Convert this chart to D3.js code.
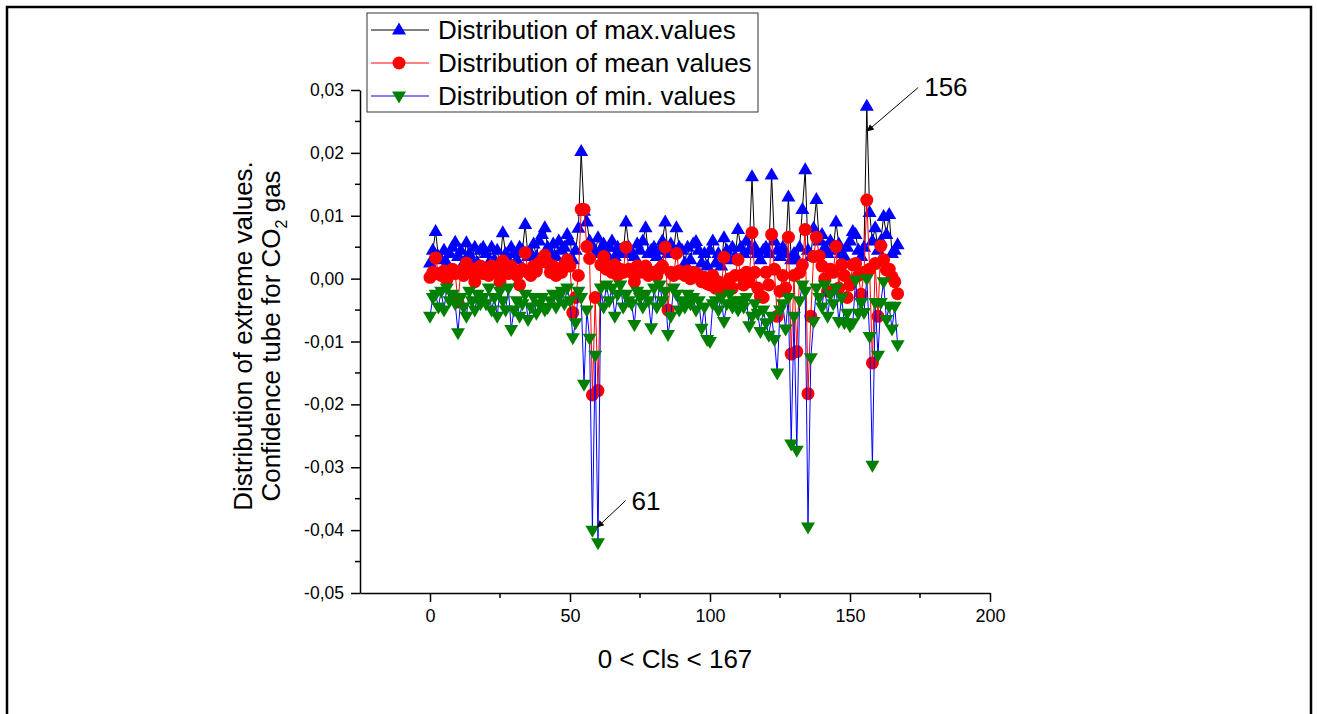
<!DOCTYPE html>
<html lang="en">
  <head>
    <meta charset="UTF-8" />
    <title>Distribution of extreme values</title>
    <script src="https://cdn.jsdelivr.net/npm/d3@7/dist/d3.min.js"></script>
    <style>
      body { margin: 0; background: #fff; }
      text { font-family: Arial, "Liberation Sans", sans-serif; fill: #000; }
      .tick text { font-size: 17.5px; }
    </style>
  </head>
  <body>
    <svg width="1317" height="714"></svg>
    <script>
      const svg = d3.select("svg");

      // max values, x = 0..167
      const maxValues = [
        0.0025, 0.0045, 0.0075, 0.0035, 0.0030, 0.0045, 0.0025, 0.0040, 0.0050, 0.0058,
        0.0035, 0.0045, 0.0025, 0.0057, 0.0040, 0.0030, 0.0050, 0.0025, 0.0045, 0.0050,
        0.0040, 0.0025, 0.0050, 0.0030, 0.0045, 0.0020, 0.0073, 0.0040, 0.0030, 0.0050,
        0.0040, 0.0030, 0.0050, 0.0045, 0.0086, 0.0035, 0.0040, 0.0055, 0.0035, 0.0060,
        0.0070, 0.0081, 0.0050, 0.0040, 0.0055, 0.0035, 0.0060, 0.0045, 0.0050, 0.0070,
        0.0060, 0.0030, 0.0045, 0.0080, 0.0202, 0.0107, 0.0090, 0.0060, 0.0050, 0.0040,
        0.0065, 0.0045, 0.0055, 0.0040, 0.0050, 0.0060, 0.0035, 0.0050, 0.0045, 0.0040,
        0.0090, 0.0050, 0.0040, 0.0035, 0.0055, 0.0045, 0.0060, 0.0081, 0.0040, 0.0045,
        0.0050, 0.0035, 0.0045, 0.0060, 0.0090, 0.0040, 0.0055, 0.0045, 0.0081, 0.0050,
        0.0045, 0.0025, 0.0050, 0.0030, 0.0055, 0.0059, 0.0045, 0.0025, 0.0040, 0.0020,
        0.0045, 0.0060, 0.0025, 0.0040, 0.0020, 0.0065, 0.0045, 0.0030, 0.0050, 0.0035,
        0.0078, 0.0050, 0.0040, 0.0060, 0.0045, 0.0162, 0.0050, 0.0040, 0.0030, 0.0045,
        0.0050, 0.0040, 0.0165, 0.0060, 0.0045, 0.0035, 0.0050, 0.0040, 0.0130, 0.0030,
        0.0040, 0.0030, 0.0050, 0.0110, 0.0173, 0.0045, 0.0035, 0.0080, 0.0126, 0.0060,
        0.0070, 0.0050, 0.0040, 0.0060, 0.0045, 0.0090, 0.0055, 0.0040, 0.0035, 0.0050,
        0.0060, 0.0075, 0.0070, 0.0045, 0.0035, 0.0050, 0.0274, 0.0105, 0.0060, 0.0081,
        0.0045, 0.0060, 0.0099, 0.0070, 0.0102, 0.0040, 0.0045, 0.0054
      ];

      const meanValues = [
        0.0002, 0.0010, 0.0033, 0.0008, 0.0005, 0.0012, -0.0002, 0.0010, 0.0015, 0.0008,
        -0.0037, 0.0012, 0.0005, 0.0025, 0.0010, 0.0015, -0.0005, 0.0012, 0.0020, 0.0008,
        0.0015, 0.0005, 0.0020, 0.0010, 0.0018, -0.0005, 0.0028, 0.0012, 0.0008, 0.0020,
        0.0010, 0.0005, -0.0010, 0.0015, 0.0041, 0.0010, 0.0005, 0.0020, 0.0012, 0.0025,
        0.0030, 0.0037, 0.0025, 0.0010, 0.0020, 0.0005, 0.0015, 0.0010, 0.0022, 0.0030,
        0.0020, -0.0054, -0.0030, 0.0005, 0.0110, 0.0110, 0.0051, 0.0032, -0.0185, -0.0030,
        -0.0178, 0.0022, 0.0035, 0.0015, 0.0020, 0.0010, 0.0022, 0.0005, 0.0015, 0.0010,
        0.0050, 0.0015, 0.0010, -0.0005, 0.0020, 0.0010, 0.0015, 0.0020, 0.0005, 0.0010,
        0.0010, 0.0005, 0.0015, 0.0020, 0.0050, -0.0050, 0.0010, 0.0005, 0.0040, 0.0012,
        0.0008, 0.0005, 0.0012, 0.0000, 0.0010, 0.0009, 0.0005, -0.0005, 0.0002, -0.0008,
        -0.0010, 0.0005, -0.0015, -0.0005, -0.0020, 0.0034, -0.0010, 0.0000, -0.0015, 0.0005,
        0.0030, 0.0005, -0.0010, 0.0010, -0.0005, 0.0073, 0.0010, -0.0015, -0.0028, -0.0030,
        0.0010, -0.0010, 0.0070, 0.0015, -0.0060, -0.0020, 0.0005, -0.0015, 0.0066, -0.0120,
        0.0005, -0.0116, 0.0010, 0.0022, 0.0078, -0.0183, -0.0060, 0.0035, 0.0066, 0.0036,
        0.0020, 0.0000, -0.0020, 0.0015, 0.0010, 0.0051, -0.0015, 0.0022, 0.0005, -0.0030,
        -0.0010, 0.0022, 0.0024, 0.0005, -0.0025, 0.0010, 0.0125, 0.0015, -0.0134, 0.0024,
        -0.0060, 0.0052, 0.0030, 0.0014, 0.0015, 0.0003, -0.0005, -0.0024
      ];

      const minValues = [
        -0.0060, -0.0030, -0.0025, -0.0045, -0.0020, -0.0050, -0.0015, -0.0035, -0.0025, -0.0040,
        -0.0086, -0.0030, -0.0045, -0.0060, -0.0020, -0.0035, -0.0050, -0.0025, -0.0040, -0.0030,
        -0.0040, -0.0015, -0.0050, -0.0030, -0.0060, -0.0020, -0.0035, -0.0050, -0.0015, -0.0081,
        -0.0050, -0.0035, -0.0060, -0.0040, -0.0025, -0.0065, -0.0045, -0.0030, -0.0055, -0.0040,
        -0.0030, -0.0050, -0.0046, -0.0035, -0.0025, -0.0045, -0.0030, -0.0020, -0.0040, -0.0015,
        -0.0035, -0.0094, -0.0070, -0.0020, -0.0030, -0.0168, -0.0050, -0.0095, -0.0400, -0.0122,
        -0.0420, -0.0015, -0.0045, -0.0010, -0.0035, -0.0015, -0.0060, -0.0025, -0.0010, -0.0045,
        -0.0025, -0.0035, -0.0040, -0.0073, -0.0020, -0.0030, -0.0045, -0.0025, -0.0035, -0.0078,
        -0.0015, -0.0045, -0.0010, -0.0035, -0.0020, -0.0089, -0.0060, -0.0015, -0.0025, -0.0050,
        -0.0035, -0.0045, -0.0025, -0.0040, -0.0030, -0.0050, -0.0035, -0.0079, -0.0045, -0.0097,
        -0.0100, -0.0040, -0.0035, -0.0050, -0.0030, -0.0068, -0.0040, -0.0025, -0.0045, -0.0035,
        -0.0050, -0.0035, -0.0045, -0.0030, -0.0075, -0.0060, -0.0040, -0.0055, -0.0084, -0.0050,
        -0.0070, -0.0090, -0.0060, -0.0097, -0.0150, -0.0050, -0.0040, -0.0080, -0.0030, -0.0263,
        -0.0060, -0.0273, -0.0035, -0.0010, -0.0020, -0.0395, -0.0126, -0.0068, -0.0015, -0.0030,
        -0.0045, -0.0010, -0.0060, -0.0025, -0.0040, -0.0015, -0.0068, -0.0030, -0.0070, -0.0055,
        -0.0075, -0.0070, -0.0002, -0.0055, -0.0038, -0.0054, 0.0000, -0.0092, -0.0297, -0.0038,
        -0.0122, -0.0038, -0.0005, -0.0065, -0.0044, -0.0080, -0.0044, -0.0105
      ];

      const xTicks = [0, 50, 100, 150, 200];
      const yTicks = [-0.05, -0.04, -0.03, -0.02, -0.01, 0, 0.01, 0.02, 0.03];

      const seriesNames = [
        "Distribution of max.values",
        "Distribution of mean values",
        "Distribution of min. values"
      ];

      const annotations = [
        { label: "156", x: 156, y: 0.0234, tx: 176.5, ty: 0.0304 },
        { label: "61", x: 59.6, y: -0.0396, tx: 72, ty: -0.0353 }
      ];

      const x = d3.scaleLinear().domain([-25, 200]).range([360, 990]);
      const y = d3.scaleLinear().domain([-0.05, 0.03]).range([593, 90]);

      // outer frame (bottom edge is cut off)
      svg.append("path")
        .attr("d", "M7,714V7H1311V714")
        .attr("fill", "none")
        .attr("stroke", "#000")
        .attr("stroke-width", 2.5);

      const fmt = (d) => d3.format(".2f")(d).replace(".", ",").replace("−", "-");

      // x axis
      const xAxis = svg.append("g").attr("transform", `translate(0,${y(-0.05)})`);
      xAxis.call(d3.axisBottom(x).tickValues(xTicks).tickSize(9).tickSizeOuter(0).tickPadding(7));
      xAxis.selectAll(".tick text").style("font-size", "18px");
      xAxis.append("g").selectAll("line")
        .data([25, 75, 125, 175])
        .join("line")
        .attr("x1", (d) => x(d)).attr("x2", (d) => x(d))
        .attr("y1", 0).attr("y2", 5)
        .attr("stroke", "#000").attr("stroke-width", 1.5);

      // y axis
      const yAxis = svg.append("g").attr("transform", `translate(${x(-25)},0)`);
      yAxis.call(d3.axisLeft(y).tickValues(yTicks).tickFormat(fmt).tickSize(9).tickSizeOuter(0).tickPadding(7));
      yAxis.append("g").selectAll("line")
        .data(d3.range(-0.045, 0.03, 0.01))
        .join("line")
        .attr("x1", 0).attr("x2", -5)
        .attr("y1", (d) => y(d)).attr("y2", (d) => y(d))
        .attr("stroke", "#000").attr("stroke-width", 1.5);

      svg.selectAll(".domain, .tick line").attr("stroke", "#000").attr("stroke-width", 1.5);
      svg.selectAll(".tick text").attr("fill", "#000");

      // axis titles
      svg.append("text")
        .attr("x", 675).attr("y", 668)
        .attr("text-anchor", "middle")
        .style("font-size", "26px")
        .text("0 < Cls < 167");

      const yTitle = svg.append("text")
        .attr("transform", "translate(0,336) rotate(-90)")
        .attr("text-anchor", "middle")
        .style("font-size", "26px");
      yTitle.append("tspan").attr("x", 0).attr("y", 252).text("Distribution of extreme values.");
      const line2 = yTitle.append("tspan").attr("x", 0).attr("y", 280);
      line2.append("tspan").text("Confidence tube for CO");
      line2.append("tspan").attr("dy", 7).style("font-size", "16px").text("2");
      line2.append("tspan").attr("dy", -7).text(" gas");

      // symbols
      const triUp = "M0,-7.5L7,4.5L-7,4.5Z";
      const triDown = "M0,7.5L7,-4.5L-7,-4.5Z";

      const series = [
        { values: maxValues, line: "#000000", fill: "#0000ff", shape: "up" },
        { values: meanValues, line: "#ff0000", fill: "#ff0000", shape: "circle" },
        { values: minValues, line: "#0000ff", fill: "#008000", shape: "down" }
      ];

      const lineGen = d3.line().x((d, i) => x(i)).y((d) => y(d));

      function drawSymbol(sel, s) {
        if (s.shape === "circle") {
          sel.append("circle").attr("r", 6.5).attr("fill", s.fill);
        } else {
          sel.append("path").attr("d", s.shape === "up" ? triUp : triDown).attr("fill", s.fill);
        }
      }

      series.forEach((s) => {
        svg.append("path")
          .datum(s.values)
          .attr("d", lineGen)
          .attr("fill", "none")
          .attr("stroke", s.line)
          .attr("stroke-width", 1);
        svg.append("g").selectAll("g")
          .data(s.values)
          .join("g")
          .attr("transform", (d, i) => `translate(${x(i)},${y(d)})`)
          .call((g) => drawSymbol(g, s));
      });

      // legend
      const legend = svg.append("g");
      legend.append("rect")
        .attr("x", 367).attr("y", 13).attr("width", 391).attr("height", 99)
        .attr("fill", "#fff").attr("stroke", "#333").attr("stroke-width", 1);
      series.forEach((s, i) => {
        const ly = 30 + i * 33;
        legend.append("line")
          .attr("x1", 371).attr("x2", 429).attr("y1", ly).attr("y2", ly)
          .attr("stroke", s.line).attr("stroke-width", 1);
        const g = legend.append("g").attr("transform", `translate(399,${ly})`);
        drawSymbol(g, s);
        legend.append("text")
          .attr("x", 438).attr("y", ly + 9)
          .style("font-size", "26px")
          .text(seriesNames[i]);
      });

      // annotations
      svg.append("defs").append("marker")
        .attr("id", "arrow")
        .attr("viewBox", "0 0 10 10")
        .attr("refX", 10).attr("refY", 5)
        .attr("markerWidth", 9).attr("markerHeight", 7)
        .attr("markerUnits", "userSpaceOnUse")
        .attr("orient", "auto")
        .append("path").attr("d", "M0,0L10,5L0,10Z").attr("fill", "#000");

      annotations.forEach((a) => {
        svg.append("line")
          .attr("x1", x(a.tx) - 6).attr("y1", y(a.ty))
          .attr("x2", x(a.x)).attr("y2", y(a.y))
          .attr("stroke", "#000").attr("stroke-width", 1)
          .attr("marker-end", "url(#arrow)");
        svg.append("text")
          .attr("x", x(a.tx)).attr("y", y(a.ty) + 9)
          .style("font-size", "26px")
          .text(a.label);
      });
    </script>
  </body>
</html>
